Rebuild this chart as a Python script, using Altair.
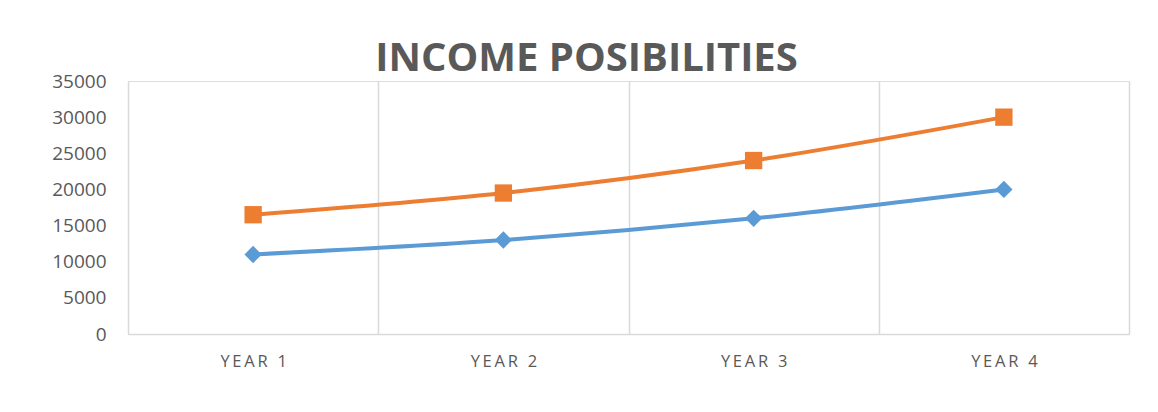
import altair as alt
import pandas as pd

years = ["YEAR 1", "YEAR 2", "YEAR 3", "YEAR 4"]
series1 = [11000, 13000, 16000, 20000]
series2 = [16500, 19500, 24000, 30000]
series_names = ["Series1", "Series2"]
colors = ["#5B9BD5", "#ED7D31"]
shapes = ["diamond", "square"]

rows = []
for name, vals in zip(series_names, [series1, series2]):
    for y, v in zip(years, vals):
        rows.append({"year": y, "value": v, "series": name})
df = pd.DataFrame(rows)

x = alt.X(
    "year:N",
    sort=years,
    bandPosition=0.5,
    scale=alt.Scale(type="band", paddingInner=0, paddingOuter=0),
    axis=alt.Axis(
        title=None,
        labelAngle=0,
        tickBand="extent",
        grid=True,
        gridColor="#d9d9d9",
        gridWidth=1.5,
        domainColor="#d9d9d9",
        domainWidth=1.5,
        ticks=False,
        labelFont="Open Sans",
        labelFontSize=16.5,
        labelColor="#595959",
        labelPadding=19,
        labelExpr="join(split(datum.label, ''), '\u2009')",
    ),
)
y = alt.Y(
    "value:Q",
    scale=alt.Scale(domain=[0, 35000]),
    axis=alt.Axis(
        title=None,
        values=list(range(0, 35001, 5000)),
        format="d",
        grid=False,
        domain=False,
        ticks=False,
        labelFont="Open Sans",
        labelFontSize=19,
        labelColor="#595959",
        labelPadding=22,
    ),
)
color = alt.Color("series:N", scale=alt.Scale(domain=series_names, range=colors), legend=None)
shape = alt.Shape("series:N", scale=alt.Scale(domain=series_names, range=shapes), legend=None)

base = alt.Chart(df)
lines = base.mark_line(strokeWidth=4, interpolate="catmull-rom").encode(x=x, y=y, color=color, detail="series:N")
points = base.mark_point(filled=True, size=300, opacity=1).encode(x=x, y=y, color=color, shape=shape)

chart = (
    alt.layer(lines, points)
    .properties(
        width=1001,
        height=253,
        title=alt.TitleParams(
            "INCOME POSIBILITIES",
            font="Open Sans",
            fontSize=40,
            fontWeight="bold",
            color="#595959",
            anchor="middle",
            dx=-42,
            dy=13,
            offset=6,
        ),
        autosize=alt.AutoSizeParams(type="none"),
        padding={"left": 120, "top": 73, "right": 12, "bottom": 70},
    )
    .configure_view(stroke=None)
    .configure(background="white")
)

chart.save("out.html", embed_options={"renderer": "svg", "actions": False})
